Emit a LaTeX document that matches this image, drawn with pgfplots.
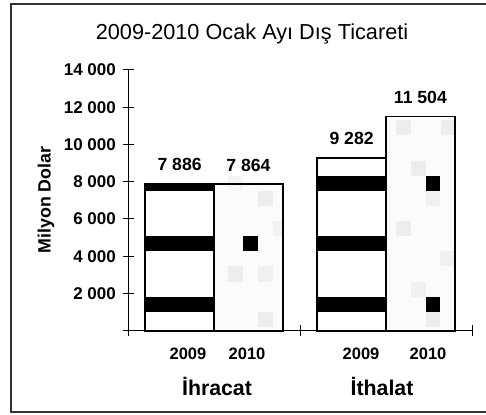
\documentclass[border=0pt]{standalone}
\usepackage{fontspec}
\setmainfont{Liberation Sans}
\usepackage{pgfplots}
\pgfplotsset{compat=1.18}
\begin{document}
\begin{tikzpicture}[x=1pt,y=1pt]
\path[use as bounding box] (0,0) rectangle (486,-414);
\draw[line width=2pt, black!80] (490,-3.7) -- (11.2,-3.7) -- (11.2,-412) -- (490,-412);
\node[anchor=base, inner sep=0pt, font=\fontsize{21.7}{26}\selectfont] at (252,-39.5) {2009-2010 Ocak Ayı Dış Ticareti};
\node[rotate=90, anchor=base, inner sep=0pt, font=\fontsize{17.8}{21}\selectfont\bfseries] at (50.5,-200) {Milyon Dolar};
\begin{axis}[
  at={(128pt,-330.7pt)}, anchor=south west,
  scale only axis, width=344pt, height=260.7pt,
  xmin=0, xmax=2, ymin=0, ymax=14000,
  axis x line*=bottom, axis y line*=left,
  axis line style={-, line width=1pt, black},
  clip=false,
  scaled y ticks=false,
  ytick={0,2000,4000,6000,8000,10000,12000,14000},
  yticklabels={,2 000,4 000,6 000,8 000,10 000,12 000,14 000},
  xtick={0,1,2}, xticklabels={},
  tick align=center, major tick length=11pt,
  tick style={black, line width=1pt},
  yticklabel style={font=\fontsize{17}{20}\selectfont\bfseries, anchor=east, inner sep=0pt, xshift=-6.5pt},
  /pgf/number format/1000 sep={\ },
  /pgf/number format/assume math mode=true,
  nodes near coords style={font=\fontsize{17.6}{20}\selectfont\bfseries, anchor=south, inner sep=0pt, yshift=12pt},
]
% 2009 bars
\addplot[ybar, bar width=0.4, bar shift=0pt, fill=white, draw=black, line width=1.6pt, nodes near coords]
  coordinates {(0.3,7886) (1.3,9282)};
% 2010 bars
\addplot[ybar, bar width=0.4, bar shift=0pt, fill=black!1.5, draw=black, line width=1.6pt, nodes near coords]
  coordinates {(0.7,7864) (1.7,11504)};
% light cells of the 2010 pattern
\addplot[fill=black!7, draw=none] coordinates {(0.756,6697) (0.843,6697) (0.843,7502) (0.756,7502)} -- cycle;
\addplot[fill=black!7, draw=none] coordinates {(0.581,2615) (0.669,2615) (0.669,3448) (0.581,3448)} -- cycle;
\addplot[fill=black!6, draw=none] coordinates {(0.756,2615) (0.843,2615) (0.843,3448) (0.756,3448)} -- cycle;
\addplot[fill=black!7, draw=none] coordinates {(0.756,199) (0.843,199) (0.843,1004) (0.756,1004)} -- cycle;
\addplot[fill=black!5, draw=none] coordinates {(0.843,5086) (0.9,5086) (0.9,5891) (0.843,5891)} -- cycle;
\addplot[fill=black!4, draw=none] coordinates {(0.581,7502) (0.669,7502) (0.669,8308) (0.581,8308)} -- cycle;
\addplot[fill=black!7, draw=none] coordinates {(1.558,10500) (1.646,10500) (1.646,11300) (1.558,11300)} -- cycle;
\addplot[fill=black!7, draw=none] coordinates {(1.820,10500) (1.9,10500) (1.9,11300) (1.820,11300)} -- cycle;
\addplot[fill=black!7, draw=none] coordinates {(1.646,8308) (1.733,8308) (1.733,9113) (1.646,9113)} -- cycle;
\addplot[fill=black!6, draw=none] coordinates {(1.733,6697) (1.814,6697) (1.814,7502) (1.733,7502)} -- cycle;
\addplot[fill=black!7, draw=none] coordinates {(1.558,5086) (1.646,5086) (1.646,5891) (1.558,5891)} -- cycle;
\addplot[fill=black!6, draw=none] coordinates {(1.814,3448) (1.9,3448) (1.9,4280) (1.814,4280)} -- cycle;
\addplot[fill=black!6, draw=none] coordinates {(1.646,1810) (1.733,1810) (1.733,2615) (1.646,2615)} -- cycle;
\addplot[fill=black!7, draw=none] coordinates {(1.733,199) (1.814,199) (1.814,1004) (1.733,1004)} -- cycle;
% black bands of the 2009 pattern
\addplot[fill=black, draw=none] coordinates {(0.1,1004) (0.5,1004) (0.5,1810) (0.1,1810)} -- cycle;
\addplot[fill=black, draw=none] coordinates {(0.1,4280) (0.5,4280) (0.5,5086) (0.1,5086)} -- cycle;
\addplot[fill=black, draw=none] coordinates {(0.1,7502) (0.5,7502) (0.5,7886) (0.1,7886)} -- cycle;
\addplot[fill=black, draw=none] coordinates {(1.1,1004) (1.5,1004) (1.5,1810) (1.1,1810)} -- cycle;
\addplot[fill=black, draw=none] coordinates {(1.1,4280) (1.5,4280) (1.5,5086) (1.1,5086)} -- cycle;
\addplot[fill=black, draw=none] coordinates {(1.1,7502) (1.5,7502) (1.5,8308) (1.1,8308)} -- cycle;
% black cells of the 2010 pattern
\addplot[fill=black, draw=none] coordinates {(0.669,4280) (0.756,4280) (0.756,5086) (0.669,5086)} -- cycle;
\addplot[fill=black, draw=none] coordinates {(1.733,1004) (1.814,1004) (1.814,1810) (1.733,1810)} -- cycle;
\addplot[fill=black, draw=none] coordinates {(1.733,7502) (1.814,7502) (1.814,8308) (1.733,8308)} -- cycle;
% bar outlines on top
\addplot[ybar, bar width=0.4, bar shift=0pt, fill=none, draw=black, line width=1.6pt]
  coordinates {(0.3,7886) (1.3,9282) (0.7,7864) (1.7,11504)};
\end{axis}
\begin{scope}[font=\fontsize{16.5}{20}\selectfont\bfseries]
\node[anchor=base, inner sep=0pt] at (188,-359.3) {2009};
\node[anchor=base, inner sep=0pt] at (247,-359.3) {2010};
\node[anchor=base, inner sep=0pt] at (361,-359.3) {2009};
\node[anchor=base, inner sep=0pt] at (428,-359.3) {2010};
\end{scope}
\begin{scope}[font=\fontsize{21.3}{25}\selectfont\bfseries]
\node[anchor=base, inner sep=0pt] at (217,-395) {İhracat};
\node[anchor=base, inner sep=0pt] at (382,-395) {İthalat};
\end{scope}
\end{tikzpicture}
\end{document}
